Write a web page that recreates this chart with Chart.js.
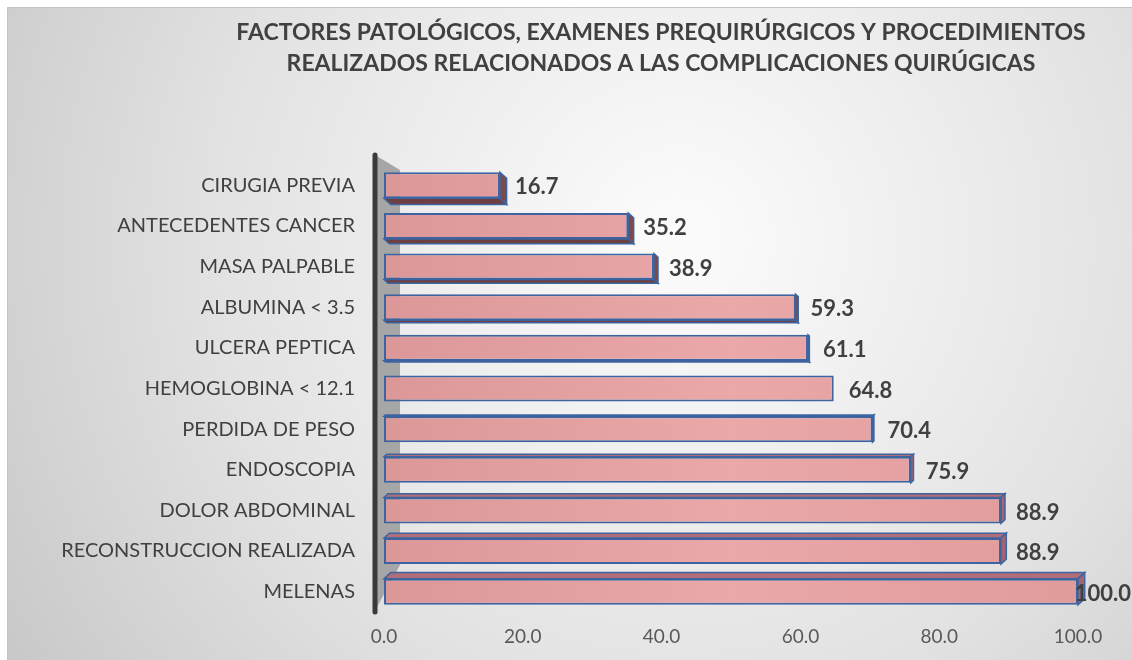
<!DOCTYPE html>
<html>
<head>
<meta charset="utf-8">
<script src="https://cdn.jsdelivr.net/npm/chart.js@4.4.1/dist/chart.umd.min.js"></script>
<style>
  html, body { margin: 0; padding: 0; background: #ffffff; }
  #wrap { width: 1132px; height: 660px; position: relative; }
</style>
</head>
<body>
<div id="wrap"><canvas id="c"></canvas></div>
<script>
// categorías (de arriba hacia abajo) y porcentajes
const categorias = [
  'CIRUGIA PREVIA',
  'ANTECEDENTES CANCER',
  'MASA PALPABLE',
  'ALBUMINA < 3.5',
  'ULCERA PEPTICA',
  'HEMOGLOBINA < 12.1',
  'PERDIDA DE PESO',
  'ENDOSCOPIA',
  'DOLOR ABDOMINAL',
  'RECONSTRUCCION REALIZADA',
  'MELENAS',
];
const porcentajes = [16.7, 35.2, 38.9, 59.3, 61.1, 64.8, 70.4, 75.9, 88.9, 88.9, 100.0];
const titulo = [
  'FACTORES PATOLÓGICOS, EXAMENES PREQUIRÚRGICOS Y PROCEDIMIENTOS',
  'REALIZADOS RELACIONADOS A LAS COMPLICACIONES QUIRÚGICAS',
];
const FONT = 'Lato, "Open Sans", sans-serif';

// fondo degradado tipo Excel, con margen blanco arriba/izquierda
const fondo = {
  id: 'fondo',
  beforeDraw(chart) {
    const { ctx, width, height } = chart;
    ctx.save();
    ctx.fillStyle = '#ffffff';
    ctx.fillRect(0, 0, width, height);
    const g = ctx.createRadialGradient(680, 240, 40, 680, 240, 820);
    g.addColorStop(0, '#fafafa');
    g.addColorStop(0.55, '#e2e2e2');
    g.addColorStop(1, '#c6c6c6');
    ctx.fillStyle = g;
    ctx.fillRect(7, 7, width - 7, height - 7);
    ctx.strokeStyle = '#c4c4c4';
    ctx.lineWidth = 1;
    ctx.beginPath();
    ctx.moveTo(7.5, height);
    ctx.lineTo(7.5, 7.5);
    ctx.lineTo(width, 7.5);
    ctx.stroke();
    ctx.restore();
  },
};

// titulo en dos lineas
const tituloPlugin = {
  id: 'tituloPlugin',
  afterDraw(chart) {
    const { ctx } = chart;
    ctx.save();
    ctx.fillStyle = '#404040';
    ctx.font = `bold 23px ${FONT}`;
    ctx.textAlign = 'center';
    ctx.textBaseline = 'middle';
    ctx.fillText(titulo[0], 661, 33);
    ctx.fillText(titulo[1], 661, 64);
    ctx.restore();
  },
};

// pared lateral gris + eje vertical oscuro + profundidad de las barras
const efecto3d = {
  id: 'efecto3d',
  beforeDatasetsDraw(chart) {
    const { ctx, chartArea: a } = chart;
    ctx.save();
    // pared
    ctx.fillStyle = '#a6a6a6';
    ctx.beginPath();
    ctx.moveTo(a.left - 9, a.top - 10);
    ctx.lineTo(a.left + 16, a.top + 5);
    ctx.lineTo(a.left + 16, a.bottom - 47);
    ctx.lineTo(a.left - 7, a.bottom - 5);
    ctx.closePath();
    ctx.fill();
    // eje
    ctx.strokeStyle = '#3a3a3a';
    ctx.lineWidth = 5;
    ctx.lineCap = 'round';
    ctx.beginPath();
    ctx.moveTo(a.left - 9, a.top - 10);
    ctx.lineTo(a.left - 9, a.bottom);
    ctx.stroke();

    // profundidad
    const cy = (a.top + a.bottom) / 2;
    const meta = chart.getDatasetMeta(0);
    meta.data.forEach((bar) => {
      const h = bar.height;
      const l = bar.base, r = bar.x, t = bar.y - h / 2, b = bar.y + h / 2;
      const dy = (cy - bar.y) * 0.03;
      const dx = Math.abs(dy) * 1.1;
      if (Math.abs(dy) < 1) return;
      ctx.lineWidth = 1.5;
      ctx.strokeStyle = '#3d64a0';
      // cara superior / inferior
      ctx.fillStyle = dy > 0 ? '#6e3f40' : '#b06e78';
      const ey = dy > 0 ? b : t;
      ctx.beginPath();
      ctx.moveTo(l, ey);
      ctx.lineTo(r, ey);
      ctx.lineTo(r + dx, ey + dy);
      ctx.lineTo(l + dx, ey + dy);
      ctx.closePath();
      ctx.fill();
      ctx.stroke();
      // cara derecha
      ctx.fillStyle = dy > 0 ? '#7d4a4c' : '#a4646e';
      ctx.beginPath();
      ctx.moveTo(r, t);
      ctx.lineTo(r + dx, t + dy);
      ctx.lineTo(r + dx, b + dy);
      ctx.lineTo(r, b);
      ctx.closePath();
      ctx.fill();
      ctx.stroke();
    });
    ctx.restore();
  },
  afterDatasetsDraw(chart) {
    // etiquetas de valor
    const { ctx, width } = chart;
    const meta = chart.getDatasetMeta(0);
    ctx.save();
    ctx.font = `bold 22px ${FONT}`;
    ctx.fillStyle = '#404040';
    ctx.textBaseline = 'middle';
    meta.data.forEach((bar, i) => {
      const txt = porcentajes[i].toFixed(1);
      const w = ctx.measureText(txt).width;
      const x = Math.min(bar.x + 15, width - w - 1);
      ctx.fillText(txt, x, bar.y + 2);
    });
    ctx.restore();
  },
};

new Chart(document.getElementById('c'), {
  type: 'bar',
  data: {
    labels: categorias,
    datasets: [{
      data: porcentajes,
      backgroundColor: (c) => {
        const { ctx, chartArea } = c.chart;
        if (!chartArea) return '#e29d9d';
        const g = ctx.createLinearGradient(chartArea.left, 0, chartArea.right, 0);
        g.addColorStop(0, '#dc9898');
        g.addColorStop(0.5, '#eba8a8');
        g.addColorStop(1, '#e09b9b');
        return g;
      },
      borderColor: '#3d64a0',
      borderWidth: 2,
      borderSkipped: false,
      barPercentage: 0.64,
      categoryPercentage: 1,
    }],
  },
  options: {
    indexAxis: 'y',
    responsive: true,
    maintainAspectRatio: false,
    animation: false,
    layout: { padding: { top: 165, right: 54, left: 0, bottom: 0 } },
    plugins: {
      legend: { display: false },
      tooltip: { enabled: false },
    },
    scales: {
      x: {
        min: 0,
        max: 100,
        grid: { display: false },
        border: { display: false },
        afterFit: (s) => { s.height = 48; },
        ticks: {
          stepSize: 20,
          padding: 5,
          color: '#595959',
          font: { family: FONT, size: 19 },
          callback: (v) => Number(v).toFixed(1),
        },
      },
      y: {
        grid: { display: false },
        border: { display: false },
        afterFit: (s) => { s.width = 384; },
        ticks: {
          padding: 21,
          color: '#404040',
          font: { family: FONT, size: 20 },
        },
      },
    },
  },
  plugins: [fondo, efecto3d, tituloPlugin],
});
</script>
</body>
</html>
